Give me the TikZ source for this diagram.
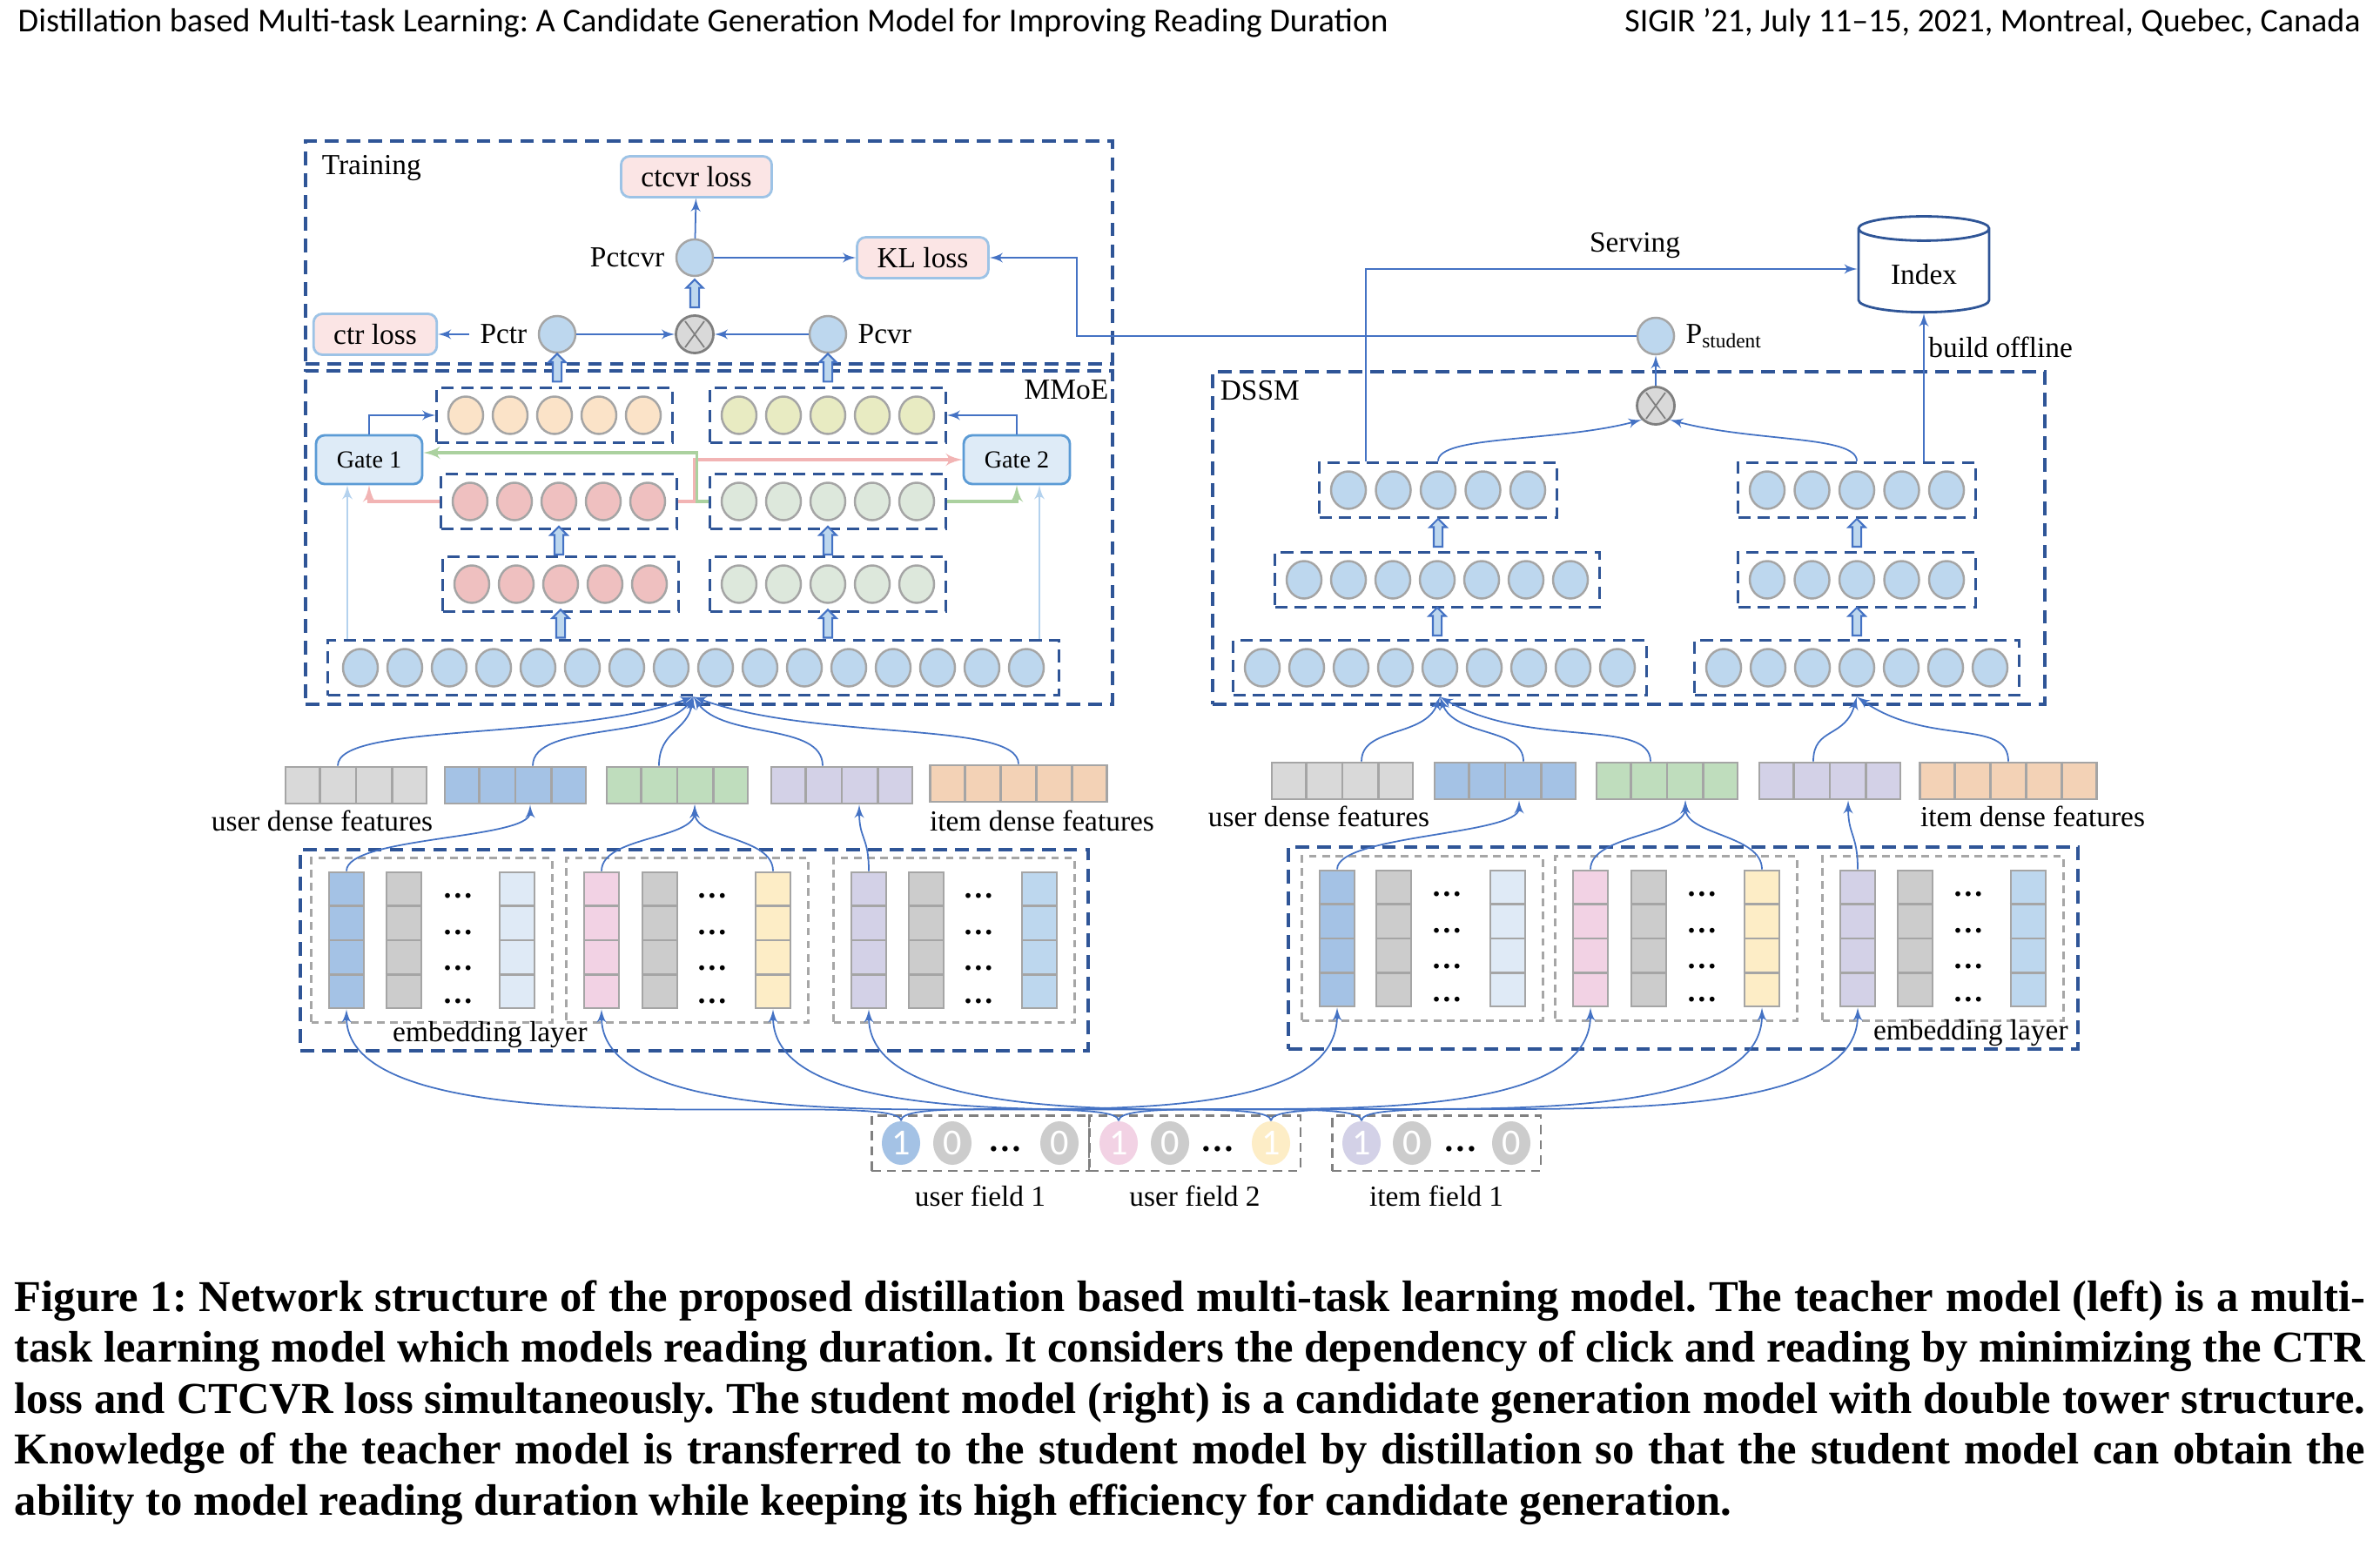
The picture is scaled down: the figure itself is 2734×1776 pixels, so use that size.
\documentclass[tikz,border=0pt]{standalone}
\usepackage{fontspec}
\setmainfont{Liberation Serif}
\newfontfamily\headfont{Carlito}
\usetikzlibrary{arrows,calc,fit,positioning,shapes.geometric,shapes.arrows}
\frenchspacing

\definecolor{lineblue}{HTML}{4472C4}
\definecolor{boxblue}{HTML}{2F5597}
\definecolor{nblue}{HTML}{BDD7EE}
\definecolor{nborder}{HTML}{A5A5A5}
\definecolor{norange}{HTML}{FBE3C8}
\definecolor{nolive}{HTML}{E8EBC2}
\definecolor{nred}{HTML}{EFC0C0}
\definecolor{ngreen}{HTML}{DDE8DC}
\definecolor{losspink}{HTML}{FBE5E5}
\definecolor{lossedge}{HTML}{9DC3E6}
\definecolor{gatefill}{HTML}{DEEBF7}
\definecolor{gateedge}{HTML}{5B9BD5}
\definecolor{xgray}{HTML}{D9D9D9}
\definecolor{xedge}{HTML}{7F7F7F}
\definecolor{fgray}{HTML}{D9D9D9}
\definecolor{fblue}{HTML}{A4C2E5}
\definecolor{fgreen}{HTML}{BFDDBD}
\definecolor{fpurple}{HTML}{D3D1E7}
\definecolor{forange}{HTML}{F3D2B6}
\definecolor{egray}{HTML}{CCCCCC}
\definecolor{elight}{HTML}{DFEAF6}
\definecolor{epink}{HTML}{F2D2E4}
\definecolor{eyellow}{HTML}{FDEDC6}
\definecolor{esky}{HTML}{BDD7EE}
\definecolor{pinkline}{HTML}{F2B4B4}
\definecolor{greenline}{HTML}{ABD19F}
\definecolor{skyline}{HTML}{B4D2EE}
\definecolor{dashgray}{HTML}{A6A6A6}
\definecolor{fieldgray}{HTML}{808080}

% embedding column with 4 cells
\newcommand{\embcol}[4]{%
  \node[embcell, fill=#4] (#1) at (#2,#3) {};
  \foreach \k in {1,2,3}
    \draw[cellsep] ($(#1.north west)!\k/4!(#1.south west)$) -- ($(#1.north east)!\k/4!(#1.south east)$);
}
% dense feature bar
\newcommand{\densebar}[5]{%
  \node[densecell, fill=#5, minimum width=#4*4.05mm] (#1) at (#2,#3) {};
  \pgfmathtruncatemacro{\nm}{#4-1}
  \foreach \k in {1,...,\nm}
    \draw[cellsep] ($(#1.north west)!\k/#4!(#1.north east)$) -- ($(#1.south west)!\k/#4!(#1.south east)$);
}

\begin{document}
\begin{tikzpicture}[x=0.01cm,y=-0.01cm,>=latex',
	every node/.style={font=\fontsize{9.5}{11}\selectfont},
	neuron/.style={ellipse,draw=nborder,fill=#1,line width=0.7pt,minimum width=4mm,minimum height=4.3mm,inner sep=0pt},
	neuron/.default=nblue,
	layerbox/.style={draw=boxblue,line width=0.9pt,dash pattern=on 4pt off 2.4pt,inner xsep=1.2mm,inner ysep=0.9mm},
	bigbox/.style={draw=boxblue,line width=0.9pt,dash pattern=on 4.5pt off 2.6pt,inner sep=0pt},
	groupbox/.style={draw=dashgray,line width=0.7pt,dash pattern=on 2.5pt off 1.8pt,inner xsep=1.9mm,inner ysep=1.5mm},
	fieldbox/.style={draw=fieldgray,line width=0.7pt,dash pattern=on 3pt off 2pt,inner xsep=1.1mm,inner ysep=0.6mm},
	link/.style={draw=lineblue,line width=0.5pt},
	loss/.style={draw=lossedge,fill=losspink,line width=0.8pt,rounded corners=1mm,minimum height=4.6mm,inner xsep=2.3mm},
	gate/.style={draw=gateedge,fill=gatefill,line width=0.8pt,rounded corners=1mm,minimum width=12.2mm,minimum height=5.6mm,font=\fontsize{8}{9}\selectfont},
	prob/.style={circle,draw=nborder,fill=nblue,line width=0.7pt,minimum size=4.2mm,inner sep=0pt},
	mult/.style={circle,draw=xedge,fill=xgray,line width=0.8pt,minimum size=4.3mm,inner sep=0pt,
		path picture={\draw[xedge,line width=0.5pt]
			([shift={(-1.1mm,1.5mm)}]path picture bounding box.center) -- ([shift={(1.1mm,-1.5mm)}]path picture bounding box.center)
			([shift={(1.1mm,1.5mm)}]path picture bounding box.center) -- ([shift={(-1.1mm,-1.5mm)}]path picture bounding box.center);}},
	blockup/.style={single arrow,draw=lineblue,fill=nblue,line width=0.6pt,shape border rotate=90,minimum height=3.2mm,inner sep=0.4mm,single arrow head extend=0.45mm},
	embcell/.style={draw=nborder,line width=0.8pt,minimum width=4mm,minimum height=15.6mm,inner sep=0pt},
	densecell/.style={draw=nborder,line width=0.8pt,minimum height=4.2mm,inner sep=0pt},
	cellsep/.style={draw=nborder,line width=0.8pt},
	onehot/.style={ellipse,fill=#1,minimum width=4.4mm,minimum height=5mm,inner sep=0pt,text=white,font=\headfont\fontsize{12}{12}\selectfont},
	edots/.style={font=\bfseries\fontsize{10}{10}\selectfont,inner sep=0pt},
	odots/.style={font=\bfseries\fontsize{11}{11}\selectfont,inner sep=0pt},
	capline/.style={anchor=west,inner sep=0pt,font=\bfseries\fontsize{14.4}{17}\selectfont}]

\fill[white] (0,0) rectangle (2734,1776);
\useasboundingbox (0,0) rectangle (2734,1776);

\node[anchor=west,inner sep=0pt,font=\headfont\fontsize{10.9}{12}\selectfont] (headl) at (20,26) {Distillation based Multi-task Learning: A Candidate Generation Model for Improving Reading Duration};
\node[anchor=east,inner sep=0pt,font=\headfont\fontsize{10.8}{12}\selectfont] (headr) at (2712,26) {SIGIR ’21, July 11–15, 2021, Montreal, Quebec, Canada};

% teacher
\node[bigbox,fit={(351,162) (1278,418)}] (train) {};
\node[bigbox,fit={(351,426) (1278,809)}] (mmoe) {};
\node[anchor=north west,xshift=0.8mm,yshift=-0.6mm] (trainl) at (train.north west) {Training};
\node[anchor=north east,xshift=0.6mm] (mmoel) at (mmoe.north east) {MMoE};

\node[loss] (ctcvr) at (800,203) {ctcvr loss};
\node[prob] (pctcvr) at (798,296) {};
\node[left=0pt of pctcvr] (pctcvrl) {Pctcvr};
\node[loss] (kl) at (1060,296) {KL loss};
\node[mult] (tx) at (798,384) {};
\node[prob] (pctr) at (640,384) {};
\node[left=0pt of pctr] (pctrl) {Pctr};
\node[prob] (pcvr) at (951,384) {};
\node[right=0pt of pcvr] (pcvrl) {Pcvr};
\node[loss] (ctr) at (431,384) {ctr loss};

\draw[link,->] (pctcvr) -- (ctcvr);
\draw[link,->] (pctcvr) -- (kl);
\draw[link,->] (pctrl.west) -- (pctrl.west -| ctr.east);
\draw[link,->] (pctr) -- (tx);
\draw[link,->] (pcvr) -- (tx);
\path (tx.north) -- (pctcvr.south) node[blockup,midway] (bx) {};

\foreach \i in {0,...,15} \node[neuron] (in\i) at (414+51*\i,767) {};
\foreach \i in {0,...,4} {
	\node[neuron=nred] (el\i) at (542+51*\i,671) {};
	\node[neuron=ngreen] (er\i) at (849+51*\i,671) {};
	\node[neuron=nred] (ml\i) at (540+51*\i,576) {};
	\node[neuron=ngreen] (mr\i) at (849+51*\i,576) {};
	\node[neuron=norange] (ul\i) at (535+51*\i,477) {};
	\node[neuron=nolive] (ur\i) at (849+51*\i,477) {};
}
\node[layerbox,inner xsep=1.6mm,fit=(in0)(in15)] (inbox) {};
\node[layerbox,fit=(el0)(el4)] (elbox) {};
\node[layerbox,fit=(er0)(er4)] (erbox) {};
\node[layerbox,fit=(ml0)(ml4)] (mlbox) {};
\node[layerbox,fit=(mr0)(mr4)] (mrbox) {};
\node[layerbox,fit=(ul0)(ul4)] (ulbox) {};
\node[layerbox,fit=(ur0)(ur4)] (urbox) {};

\path (elbox.south) -- (elbox.south |- inbox.north) node[blockup,midway] (b1) {};
\path (erbox.south) -- (erbox.south |- inbox.north) node[blockup,midway] (b2) {};
\path (mlbox.south) -- (mlbox.south |- elbox.north) node[blockup,midway] (b3) {};
\path (mrbox.south) -- (mrbox.south |- erbox.north) node[blockup,midway] (b4) {};
\path (pctr.south) -- (pctr.south |- ulbox.north) node[blockup,midway] (b5) {};
\path (pcvr.south) -- (pcvr.south |- urbox.north) node[blockup,midway] (b6) {};

\node[gate] (g1) at (424,528) {Gate 1};
\node[gate] (g2) at (1168,528) {Gate 2};
\draw[link,->] (g1.north) |- (ulbox.west);
\draw[link,->] (g2.north) |- (urbox.east);
\coordinate (g1in) at ([xshift=-2.5mm]g1.south);
\coordinate (g2in) at ([xshift=2.6mm]g2.south);
\draw[skyline,line width=0.6pt,->] (g1in |- inbox.north) -- (g1in);
\draw[skyline,line width=0.6pt,->] (g2in |- inbox.north) -- (g2in);
\draw[pinkline,line width=0.9pt,->] (mlbox.west) -| (g1.south);
\draw[pinkline,line width=0.9pt,->] (mlbox.east) -- ++(1.9mm,0) |- (g2.west);
\draw[greenline,line width=0.9pt,->] (mrbox.west) -- ++(-1.4mm,0) |- ([yshift=0.8mm]g1.east);
\draw[greenline,line width=0.9pt,->] (mrbox.east) -| (g2.south);

% student
\node[bigbox,fit={(1393,427) (2349,809)}] (dssm) {};
\node[anchor=north west,xshift=-0.2mm] (dssml) at (dssm.north west) {DSSM};
\foreach \i in {0,...,8} \node[neuron] (ua\i) at (1450+51*\i,767) {};
\foreach \i in {0,...,6} \node[neuron] (ub\i) at (1498+51*\i,666) {};
\foreach \i in {0,...,4} \node[neuron] (uc\i) at (1549+51.5*\i,563) {};
\foreach \i in {0,...,6} \node[neuron] (ia\i) at (1980+51*\i,767) {};
\foreach \i in {0,...,4} \node[neuron] (ib\i) at (2030+51.5*\i,666) {};
\foreach \i in {0,...,4} \node[neuron] (ic\i) at (2030+51.5*\i,563) {};
\node[layerbox,fit=(ua0)(ua8)] (uabox) {};
\node[layerbox,fit=(ub0)(ub6)] (ubbox) {};
\node[layerbox,fit=(uc0)(uc4)] (ucbox) {};
\node[layerbox,fit=(ia0)(ia6)] (iabox) {};
\node[layerbox,fit=(ib0)(ib4)] (ibbox) {};
\node[layerbox,fit=(ic0)(ic4)] (icbox) {};
\path (ubbox.south) -- (ubbox.south |- uabox.north) node[blockup,midway] (b7) {};
\path (ucbox.south) -- (ucbox.south |- ubbox.north) node[blockup,midway] (b8) {};
\path (ibbox.south) -- (ibbox.south |- iabox.north) node[blockup,midway] (b9) {};
\path (icbox.south) -- (icbox.south |- ibbox.north) node[blockup,midway] (b10) {};

\node[mult] (dx) at (1902,466) {};
\node[prob] (pstu) at (1902,386) {};
\node[right=0pt of pstu] (pstul) {P\textsubscript{student}};
\draw[link,->] (dx) -- (pstu);
\draw[link,->] (ucbox.north) .. controls +(up:3mm) and +(195:10mm) .. (dx.south west);
\draw[link,->] (icbox.north) .. controls +(up:3mm) and +(-15:10mm) .. (dx.south east);

\node[cylinder,shape border rotate=90,aspect=0.28,draw=boxblue,line width=0.8pt,minimum width=15mm,minimum height=11mm] (index) at (2210,315) {Index};
\coordinate (servx) at (1569,0);
\coordinate (servy) at (0,309);
\draw[link,->] (ucbox.north -| servx) |- (servy -| index.west);
\node (serv) at (1878,282) {Serving};
\draw[link,->] (icbox.north -| index) -- (index.south);
\node[anchor=west] (build) at (2203,399) {build offline};
\coordinate (klx) at (1237,0);
\draw[link,->] (pstu.west) -- (pstu.west -| klx) |- (kl.east);

% dense features
\densebar{Lf1}{409}{902}{4}{fgray}
\densebar{Lf2}{592}{902}{4}{fblue}
\densebar{Lf3}{778}{902}{4}{fgreen}
\densebar{Lf4}{967}{902}{4}{fpurple}
\densebar{Lf5}{1170}{900}{5}{forange}
\densebar{Rf1}{1542}{897}{4}{fgray}
\densebar{Rf2}{1729}{897}{4}{fblue}
\densebar{Rf3}{1915}{897}{4}{fgreen}
\densebar{Rf4}{2102}{897}{4}{fpurple}
\densebar{Rf5}{2307}{897}{5}{forange}
\node (Lufl) at (370,943) {user dense features};
\node (Lifl) at (1197,943) {item dense features};
\node (Rufl) at (1515,938) {user dense features};
\node (Rifl) at (2335,938) {item dense features};

\draw[link,->] ([xshift=-2.1mm]Lf1.north) .. controls +(up:5mm) and +(200:15mm) .. (inbox.south);
\draw[link,->] ([xshift=2mm]Lf2.north) .. controls +(up:5mm) and +(235:6mm) .. (inbox.south);
\draw[link,->] ([xshift=-2.1mm]Lf3.north) .. controls +(up:4mm) and +(260:4mm) .. (inbox.south);
\draw[link,->] ([xshift=-2.2mm]Lf4.north) .. controls +(up:5mm) and +(-55:6mm) .. (inbox.south);
\draw[link,->] (Lf5.north) .. controls +(up:5mm) and +(-20:15mm) .. (inbox.south);
\draw[link,->] ([xshift=2.2mm]Rf1.north) .. controls +(up:4mm) and +(250:5mm) .. (uabox.south);
\draw[link,->] ([xshift=2.1mm]Rf2.north) .. controls +(up:4mm) and +(-70:5mm) .. (uabox.south);
\draw[link,->] ([xshift=-1.9mm]Rf3.north) .. controls +(up:5mm) and +(-30:12mm) .. (uabox.south);
\draw[link,->] ([xshift=-1.9mm]Rf4.north) .. controls +(up:4mm) and +(255:5mm) .. (iabox.south);
\draw[link,->] (Rf5.north) .. controls +(up:5mm) and +(-35:10mm) .. (iabox.south);

% embedding layers
\embcol{Lc1}{398}{1080}{fblue}
\embcol{Lc2}{464}{1080}{egray}
\embcol{Lc3}{594}{1080}{elight}
\embcol{Lc4}{691}{1080}{epink}
\embcol{Lc5}{758}{1080}{egray}
\embcol{Lc6}{888}{1080}{eyellow}
\embcol{Lc7}{998}{1080}{fpurple}
\embcol{Lc8}{1064}{1080}{egray}
\embcol{Lc9}{1194}{1080}{esky}
\embcol{Rc1}{1536}{1078}{fblue}
\embcol{Rc2}{1601}{1078}{egray}
\embcol{Rc3}{1732}{1078}{elight}
\embcol{Rc4}{1827}{1078}{epink}
\embcol{Rc5}{1894}{1078}{egray}
\embcol{Rc6}{2024}{1078}{eyellow}
\embcol{Rc7}{2134}{1078}{fpurple}
\embcol{Rc8}{2200}{1078}{egray}
\embcol{Rc9}{2330}{1078}{esky}
\foreach \x/\y [count=\g] in {526/1080,818/1080,1124/1080,1662/1078,1955/1078,2261/1078}
	\foreach \dy [count=\r] in {-51,-9,32,70}
		\node[edots] (ed\g\r) at (\x,\y+\dy) {\ldots};
\node[groupbox,fit=(Lc1)(Lc3)] (Lg1) {};
\node[groupbox,fit=(Lc4)(Lc6)] (Lg2) {};
\node[groupbox,fit=(Lc7)(Lc9)] (Lg3) {};
\node[groupbox,fit=(Rc1)(Rc3)] (Rg1) {};
\node[groupbox,fit=(Rc4)(Rc6)] (Rg2) {};
\node[groupbox,fit=(Rc7)(Rc9)] (Rg3) {};
\node[bigbox,fit={(345,976) (1250,1207)}] (Lemb) {};
\node[bigbox,fit={(1480,973) (2387,1205)}] (Remb) {};
\node (Lembl) at (563,1189) {embedding layer};
\node[anchor=east] (Rembl) at (2388,1187) {embedding layer};

\foreach \c/\f/\s in {Lc1/Lf2/1.7mm,Lc4/Lf3/2mm,Lc6/Lf3/2mm,Lc7/Lf4/2mm,Rc1/Rf2/1.6mm,Rc4/Rf3/2.1mm,Rc6/Rf3/2.1mm,Rc7/Rf4/2.1mm}
	\draw[link,->] (\c.north) .. controls +(up:4mm) and +(down:4mm) .. ([xshift=\s]\f.south);

% one-hot fields
\node[onehot=fblue] (u1a) at (1035,1313) {1};
\node[onehot=egray] (u1b) at (1094,1313) {0};
\node[odots] (u1d) at (1155,1320) {\ldots};
\node[onehot=egray] (u1c) at (1217,1313) {0};
\node[onehot=epink] (u2a) at (1285,1313) {1};
\node[onehot=egray] (u2b) at (1344,1313) {0};
\node[odots] (u2d) at (1399,1320) {\ldots};
\node[onehot=eyellow] (u2c) at (1460,1313) {1};
\node[onehot=fpurple] (i1a) at (1564,1313) {1};
\node[onehot=egray] (i1b) at (1622,1313) {0};
\node[odots] (i1d) at (1678,1320) {\ldots};
\node[onehot=egray] (i1c) at (1736,1313) {0};
\node[fieldbox,fit=(u1a)(u1c)] (uf1) {};
\node[fieldbox,fit=(u2a)(u2c)] (uf2) {};
\node[fieldbox,fit=(i1a)(i1c)] (if1) {};
\node[below=0.4mm of uf1] (uf1l) {user field 1};
\node[below=0.4mm of uf2] (uf2l) {user field 2};
\node[below=0.4mm of if1] (if1l) {item field 1};

\foreach \o/\c in {u1a/Lc1,u2a/Lc4,u2c/Lc6,i1a/Lc7,u1a/Rc1,u2a/Rc4,u2c/Rc6,i1a/Rc7}
	\draw[link,->] (\o.north) .. controls +(up:4mm) and +(down:17mm) .. (\c.south);

% caption
\node[capline] (cap1) at (16,1494) {\makebox[26.99cm][s]{Figure 1: Network structure of the proposed distillation based multi-task learning model. The teacher model (left) is a multi-}};
\node[capline] (cap2) at (16,1552) {\makebox[26.99cm][s]{task learning model which models reading duration. It considers the dependency of click and reading by minimizing the CTR}};
\node[capline] (cap3) at (16,1611) {\makebox[26.99cm][s]{loss and CTCVR loss simultaneously. The student model (right) is a candidate generation model with double tower structure.}};
\node[capline] (cap4) at (16,1669) {\makebox[26.99cm][s]{Knowledge of the teacher model is transferred to the student model by distillation so that the student model can obtain the}};
\node[capline] (cap5) at (16,1728) {ability to model reading duration while keeping its high efficiency for candidate generation.};
\end{tikzpicture}
\end{document}
